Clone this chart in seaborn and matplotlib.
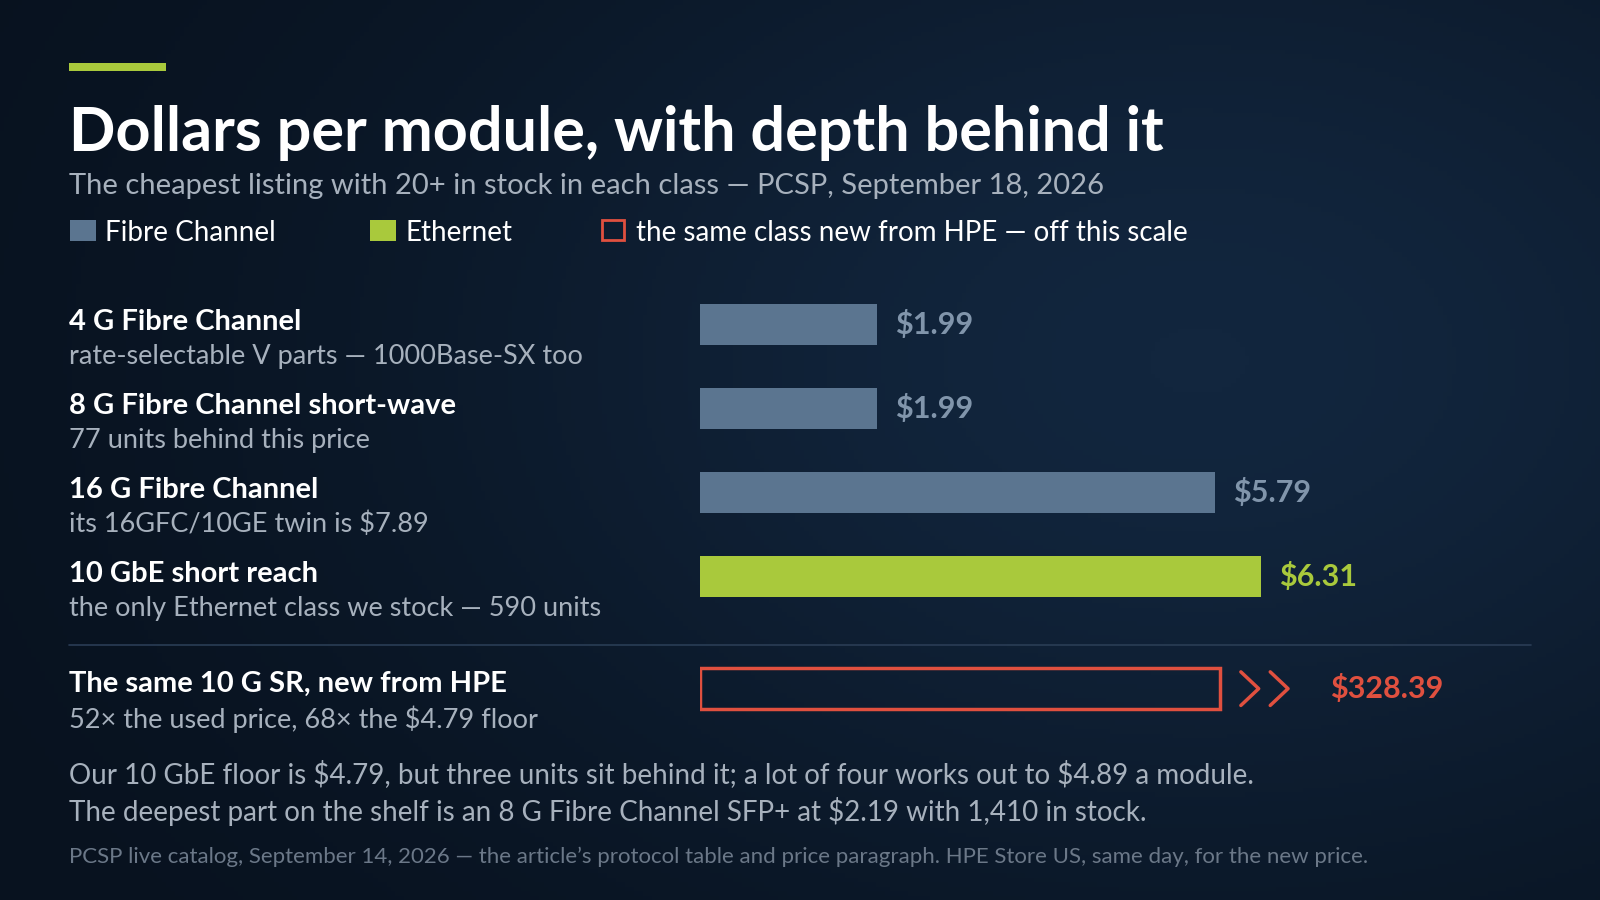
import numpy as np
import matplotlib
matplotlib.use("Agg")
import matplotlib.pyplot as plt
import seaborn as sns
from matplotlib.patches import Rectangle

sns.set_theme(style="white")
plt.rcParams['font.family'] = ['Lato', 'DejaVu Sans']
plt.rcParams['text.parse_math'] = False

categories = ["4 G Fibre Channel", "8 G Fibre Channel short-wave", "16 G Fibre Channel", "10 GbE short reach"]
subtitles = ["rate-selectable V parts — 1000Base-SX too", "77 units behind this price",
             "its 16GFC/10GE twin is $7.89", "the only Ethernet class we stock — 590 units"]
prices = [1.99, 1.99, 5.79, 6.31]
kinds = ["Fibre Channel", "Fibre Channel", "Fibre Channel", "Ethernet"]
hpe_label = "The same 10 G SR, new from HPE"
hpe_sub = "52× the used price, 68× the $4.79 floor"
hpe_price = 328.39

W, H = 1568, 882
BG = "#0c1a2d"
FC = "#5b7590"
FC_TXT = "#8195ab"
GREEN = "#a9c93c"
RED = "#e0503f"
WHITE = "#ffffff"
GREY = "#a7b1bd"

fig = plt.figure(figsize=(16, 9), dpi=100)
fig.patch.set_facecolor(BG)
bg = fig.add_axes([0, 0, 1, 1])
yy, xx = np.mgrid[0:1:200j, 0:1:356j]
grad = np.exp(-(((xx - 0.75) / 0.5) ** 2 + ((yy - 0.6) / 0.6) ** 2))
bg.imshow(grad, cmap=matplotlib.colors.LinearSegmentedColormap.from_list("g", ["#08121f", "#12263e"]),
          aspect="auto", extent=[0, 1, 0, 1], origin="lower")
bg.set_xlim(0, 1); bg.set_ylim(0, 1); bg.axis("off")

def fx(px): return px / W
def fy(py): return 1 - py / H

bg.add_patch(Rectangle((fx(68), fy(70)), fx(163) - fx(68), 8 / H, color=GREEN, lw=0))
bg.plot([fx(68), fx(1500)], [fy(632), fy(632)], color="#2a3d55", lw=1.2)

fig.text(fx(68), fy(148), "Dollars per module, with depth behind it", color=WHITE,
         fontsize=44, fontweight="bold", va="baseline")
fig.text(fx(68), fy(190), "The cheapest listing with 20+ in stock in each class — PCSP, September 18, 2026",
         color=GREY, fontsize=21, va="baseline")

bg.add_patch(Rectangle((fx(69), fy(236)), 25 / W, 20 / H, color=FC, lw=0))
fig.text(fx(103), fy(236), "Fibre Channel", color=WHITE, fontsize=20, va="baseline")
bg.add_patch(Rectangle((fx(363), fy(236)), 25 / W, 20 / H, color=GREEN, lw=0))
fig.text(fx(397), fy(236), "Ethernet", color=WHITE, fontsize=20, va="baseline")
bg.add_patch(Rectangle((fx(590), fy(235)), 22 / W, 19 / H, fill=False, ec=RED, lw=2))
fig.text(fx(623), fy(236), "the same class new from HPE — off this scale", color=WHITE, fontsize=20, va="baseline")

step = 82.3
for i, (c, s) in enumerate(zip(categories, subtitles)):
    fig.text(fx(68), fy(323 + i * step), c, color=WHITE, fontsize=21, fontweight="bold", va="baseline")
    fig.text(fx(68), fy(357 + i * step), s, color=GREY, fontsize=19.5, va="baseline")
fig.text(fx(68), fy(678), hpe_label, color=WHITE, fontsize=21, fontweight="bold", va="baseline")
fig.text(fx(68), fy(713), hpe_sub, color=GREY, fontsize=19.5, va="baseline")

ax = fig.add_axes([fx(686), fy(716), fx(1500) - fx(686), (716 - 277) / H])
ax.patch.set_alpha(0)
xmax = 814 / 87.2
ypos = list(range(len(prices)))
colors = [FC if k == "Fibre Channel" else GREEN for k in kinds]
ax.barh(ypos, prices, height=0.486, color=colors, edgecolor="none")
for y, p, k in zip(ypos, prices, kinds):
    ax.text(p + 0.2, y, f"${p:.2f}", color=FC_TXT if k == "Fibre Channel" else GREEN,
            fontsize=22, fontweight="bold", va="center", ha="left")
hy = (675 - 318) / step
cap = (1196 - 686) / 87.2
ax.barh([hy], [min(hpe_price, cap)], height=0.486, facecolor="none", edgecolor=RED, linewidth=2.5)
for off in (0.23, 0.56):
    ax.plot([cap + off, cap + off + 0.2, cap + off], [hy - 0.2, hy, hy + 0.2], color=RED, lw=2.5)
ax.text(cap + 1.23, hy, f"${hpe_price:.2f}", color=RED, fontsize=22, fontweight="bold", va="center", ha="left")
ax.set_xlim(0, xmax)
ax.set_ylim(hy + 0.5, -0.5)
ax.axis("off")

fig.text(fx(68), fy(767), "Our 10 GbE floor is $4.79, but three units sit behind it; a lot of four works out to $4.89 a module.",
         color=GREY, fontsize=20, va="baseline")
fig.text(fx(68), fy(805), "The deepest part on the shelf is an 8 G Fibre Channel SFP+ at $2.19 with 1,410 in stock.",
         color=GREY, fontsize=20, va="baseline")
fig.text(fx(68), fy(846), "PCSP live catalog, September 14, 2026 — the article’s protocol table and price paragraph. HPE Store US, same day, for the new price.",
         color="#6b7888", fontsize=16, va="baseline")

fig.savefig("out.png", dpi=100, facecolor=BG)
